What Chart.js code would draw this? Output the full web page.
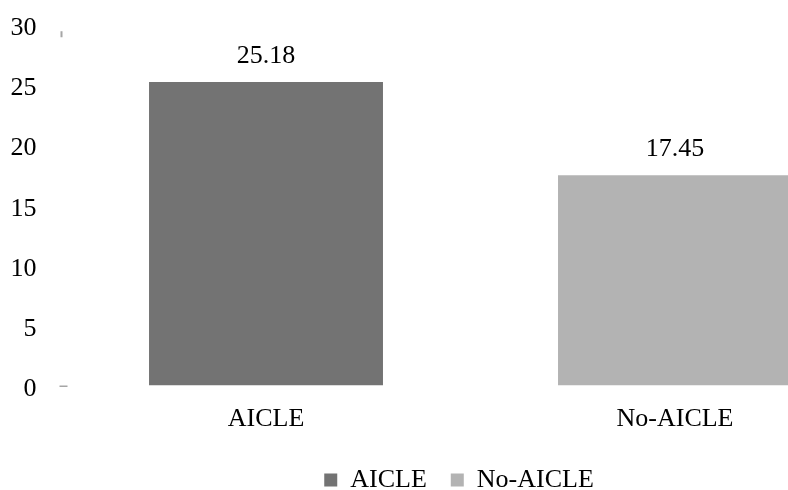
<!DOCTYPE html>
<html>
<head>
<meta charset="utf-8">
<script src="https://cdn.jsdelivr.net/npm/chart.js@4"></script>
<style>
	html, body { margin: 0; padding: 0; background: #fff; }
	#wrap { width: 788px; height: 490px; overflow: hidden; position: relative; }
	canvas { display: block; }
</style>
</head>
<body>
<div id="wrap"><canvas id="chart" width="915" height="503"></canvas></div>
<script>
"use strict";

const categories = ["AICLE", "No-AICLE"];
const seriesNames = ["AICLE", "No-AICLE"];
const seriesValues = [25.18, 17.45];
const seriesColors = ["#737373", "#b3b3b3"];
const yTicks = [0, 5, 10, 15, 20, 25, 30];

const fontFamily = "'Liberation Serif', 'Times New Roman', serif";

// one dataset per group so the legend shows both, each bar sits alone in its category
const datasets = seriesNames.map((name, index) => ({
	label: name,
	data: categories.map((category, categoryIndex) => categoryIndex === index ? seriesValues[index] : null),
	backgroundColor: seriesColors[index],
	borderWidth: 0,
	barPercentage: 0.572,
	categoryPercentage: 1
}));

const valueLabels = {
	id: "valueLabels",
	afterDatasetsDraw: chart => {
		let ctx = chart.ctx;
		ctx.save();
		ctx.font = "26px " + fontFamily;
		ctx.fillStyle = "#000";
		ctx.textAlign = "center";
		ctx.textBaseline = "alphabetic";
		chart.data.datasets.forEach((dataset, datasetIndex) => {
			chart.getDatasetMeta(datasetIndex).data.forEach((element, index) => {
				let value = dataset.data[index];
				if (value === null) return;
				ctx.fillText(value.toFixed(2), element.x, element.y - 19);
			});
		});
		ctx.restore();
	}
};

// the two faint axis remnants next to the value axis
const axisMarks = {
	id: "axisMarks",
	afterDraw: chart => {
		let ctx = chart.ctx;
		let yScale = chart.scales.y;
		let left = chart.chartArea.left;
		ctx.save();
		ctx.fillStyle = "#a6a6a6";
		ctx.fillRect(left - 1, yScale.getPixelForValue(29.4), 2, yScale.getPixelForValue(28.9) - yScale.getPixelForValue(29.4));
		ctx.fillRect(left - 2, yScale.getPixelForValue(0), 8, 1.5);
		ctx.restore();
	}
};

// the legend is centred a little right of the canvas middle
const legendShift = {
	id: "legendShift",
	afterLayout: chart => {
		chart.legend.left += 14;
		chart.legend.right += 14;
	}
};

new Chart(document.querySelector("canvas#chart"), {
	type: "bar",
	data: {
		labels: categories,
		datasets: datasets
	},
	options: {
		responsive: false,
		animation: false,
		layout: {
			padding: { left: 10.5, right: 35.5, top: 24, bottom: 0 }
		},
		scales: {
			x: {
				stacked: true,
				grid: { display: false, drawTicks: false },
				border: { display: false },
				ticks: {
					color: "#000",
					padding: 18,
					font: { family: fontFamily, size: 26 }
				},
				afterFit: scale => { scale.height = 57.5; }
			},
			y: {
				stacked: true,
				min: 0,
				max: 30,
				grid: { display: false, drawTicks: false },
				border: { display: false },
				afterBuildTicks: scale => { scale.ticks = yTicks.map(value => ({ value: value })); },
				ticks: {
					color: "#000",
					padding: 25,
					labelOffset: 4,
					font: { family: fontFamily, size: 26 }
				},
				afterFit: scale => {
					scale.width = 51;
					scale.paddingTop = 0;
					scale.paddingBottom = 0;
				}
			}
		},
		plugins: {
			legend: {
				position: "bottom",
				labels: {
					color: "#000",
					boxWidth: 13,
					boxHeight: 13,
					padding: 24,
					font: { family: fontFamily, size: 26 }
				}
			},
			tooltip: { enabled: false }
		}
	},
	plugins: [valueLabels, axisMarks, legendShift]
});
</script>
</body>
</html>
